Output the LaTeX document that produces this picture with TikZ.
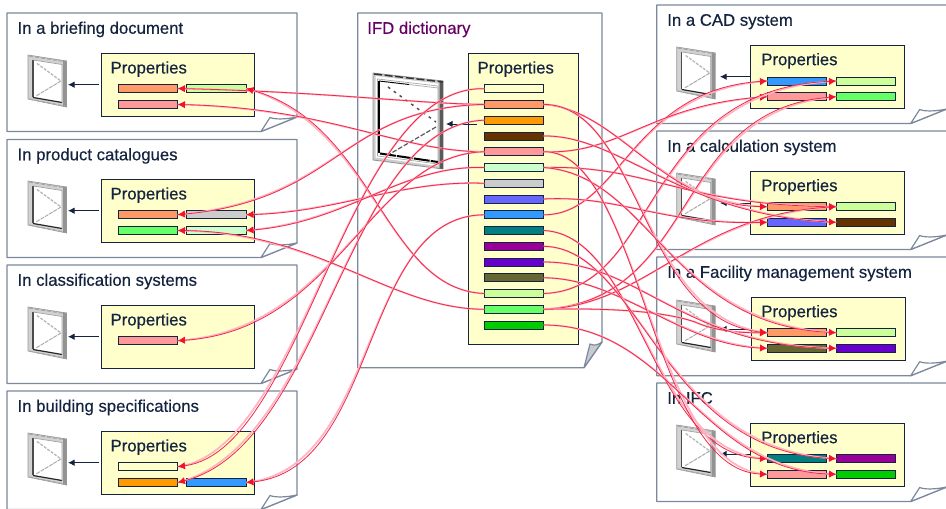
\documentclass[tikz,border=0pt]{standalone}
\usepackage{fontspec}
\setmainfont{Liberation Sans}
\newfontfamily\titlefont[FakeBold=0.35]{Liberation Sans}
\usetikzlibrary{arrows.meta}
\definecolor{navy}{HTML}{14233F}
\definecolor{slate}{HTML}{7C889C}
\definecolor{foldc}{HTML}{C8CCD2}
\definecolor{cream}{HTML}{FFFFCC}
\definecolor{purp}{HTML}{660066}
\definecolor{linkc}{HTML}{F02848}
\definecolor{haloc}{HTML}{FFB4C4}
\definecolor{tipc}{HTML}{F5102F}
\definecolor{cA}{HTML}{FFFFCC}
\definecolor{cB}{HTML}{FF9966}
\definecolor{cC}{HTML}{FF9900}
\definecolor{cD}{HTML}{663300}
\definecolor{cE}{HTML}{FF9999}
\definecolor{cF}{HTML}{CCFFCC}
\definecolor{cG}{HTML}{CCCCCC}
\definecolor{cH}{HTML}{6666FF}
\definecolor{cI}{HTML}{3399FF}
\definecolor{cJ}{HTML}{008080}
\definecolor{cK}{HTML}{990099}
\definecolor{cL}{HTML}{6600CC}
\definecolor{cM}{HTML}{666633}
\definecolor{cN}{HTML}{CCFF99}
\definecolor{cO}{HTML}{66FF66}
\definecolor{cP}{HTML}{00CC00}
\tikzset{
  docpage/.style={draw=slate,line width=1pt,fill=white,line join=round},
  pagefold/.style={draw=slate,line width=.9pt,fill=white,line join=round},
  titletext/.style={anchor=base west,inner sep=0pt,xshift=-.5pt,yshift=.4pt,font=\titlefont\fontsize{12.55pt}{15pt}\selectfont,text=navy},
  propbox/.style={draw=navy,line width=.7pt,fill=cream,inner sep=0pt,outer sep=0pt},
  barbox/.style={draw=navy,line width=.7pt,inner sep=0pt,outer sep=0pt,minimum width=44.5pt,minimum height=6pt},
  winarrow/.style={draw=navy,line width=.7pt,-{Latex[length=5pt,width=5pt]}},
  link/.style={draw=linkc,line width=.6pt,-{Latex[length=5.5pt,width=5.5pt,color=tipc]},
     preaction={draw=haloc,line width=1.3pt,-}},
}
% doc page: name, x, ytop, ybottom, title
\newcommand\docpage[5]{%
  \path[docpage] (#2,#3) -- ++(290,0) -- (#2+290,#4-14.5) -- (#2+254,#4) -- (#2,#4) -- cycle;
  \path[pagefold] (#2+254,#4) -- (#2+263,#4-14) .. controls (#2+268,#4-12) and (#2+278,#4-12) .. (#2+290,#4-14.5) -- cycle;
  \node[titletext] (#1) at (#2+11,#3+21.3) {#5};
}
% property box with heading: name, x0, y0, x1, y1, heading x, baseline
\newcommand\propsbox[7]{%
  \node[propbox,minimum width={(#4-#2)*.75pt},minimum height={(#5-#3)*.75pt}] (#1) at ({(#2+#4)/2},{(#3+#5)/2}) {};
  \node[titletext] (#1h) at (#6,#7) {Properties};
}
% bar: name, left x, top y, colour
\newcommand\pbar[4]{\node[barbox,fill=#4] (#1) at (#2+29.7,#3+4) {};}
% small window icon
\newcommand\winicon[3]{%
  \begin{scope}[shift={(#2,#3)}]
    \node[inner sep=0pt,minimum width=28.5pt,minimum height=39pt] (#1) at (19,26) {};
    \fill[gray!35,draw=gray!80,line width=.5pt] (0,0) -- (38.5,6) -- (38.5,52) -- (0,44) -- cycle;
    \fill[gray!85] (35,5.5) -- (38.5,6) -- (38.5,52) -- (35,51.3) -- cycle;
    \draw[gray!70,line width=1pt,dash pattern=on 3pt off 1.5pt] (1,1) -- (37,6.5);
    \draw[gray!70,line width=.8pt,dash pattern=on 3pt off 1.5pt] (1,44) -- (37,51);
    \fill[white] (5,5) -- (34,9.5) -- (34,47.5) -- (5,42) -- cycle;
    \draw[black!70,line width=.8pt] (5,5) -- (5,42);
    \draw[black!85,line width=.9pt] (5,42.5) -- (34,47.5);
    \draw[gray!75,line width=.5pt] (5,5) -- (34,9.5) -- (34,47.5);
    \draw[gray!55,line width=1pt,dash pattern=on 2.2pt off 1pt] (9,8.5) -- (33,26);
    \draw[gray!70,line width=.7pt,dash pattern=on 3pt off .7pt] (33,26) -- (8,41);
  \end{scope}}
\begin{document}
\begin{tikzpicture}[x=.75pt,y=-.75pt]
\useasboundingbox (0,0) rectangle (946,509);
\fill[white] (0,0) rectangle (946,509);
\clip (0,0) rectangle (946,509);
% ---- pages
\docpage{tA}{7}{13}{131.5}{In a briefing document}
\docpage{tB}{7}{139.5}{257.5}{In product catalogues}
\docpage{tC}{7}{265}{383.5}{In classification systems}
\docpage{tD}{7}{391}{509.5}{In building specifications}
\docpage{tE}{656.7}{5}{123.5}{In a CAD system}
\docpage{tF}{656.7}{131}{249.5}{In a calculation system}
\docpage{tG}{656.7}{257}{375.7}{In a Facility management system}
\docpage{tH}{656.7}{383}{501.5}{In IFC}
% dictionary page
\path[docpage] (357.7,13) -- (602,13) -- (602,342) -- (584,367.7) -- (357.7,367.7) -- cycle;
\path[pagefold,fill=foldc] (584,367.7) -- (590,344) .. controls (594,346) and (598,345) .. (602,342) -- cycle;
\node[titletext,text=purp] (tI) at (367.7,34.3) {IFD dictionary};
% ---- property boxes
\propsbox{pA}{101}{53}{254}{116}{111}{74}
\propsbox{pB}{101}{179}{254}{242}{111}{200}
\propsbox{pC}{101}{305}{254}{368}{111}{326}
\propsbox{pD}{101}{431.7}{254}{494}{111}{452}
\propsbox{pE}{750.7}{45.7}{904.3}{108}{761.7}{65.7}
\propsbox{pF}{750.7}{171.7}{904.3}{234.3}{761.7}{191.7}
\propsbox{pG}{751.5}{297.3}{905.5}{360}{761.7}{317.7}
\propsbox{pH}{750.7}{423.3}{904.3}{486}{761.7}{443.7}
\propsbox{pI}{468.3}{53}{578.7}{344.5}{478}{74}
% ---- dictionary bars
\pbar{bA}{484.3}{84.7}{cA}
\pbar{bB}{484.3}{100.4}{cB}
\pbar{bC}{484.3}{116.2}{cC}
\pbar{bD}{484.3}{132}{cD}
\pbar{bE}{484.3}{147.7}{cE}
\pbar{bF}{484.3}{163.5}{cF}
\pbar{bG}{484.3}{179.3}{cG}
\pbar{bH}{484.3}{195}{cH}
\pbar{bI}{484.3}{210.8}{cI}
\pbar{bJ}{484.3}{226.5}{cJ}
\pbar{bK}{484.3}{242.3}{cK}
\pbar{bL}{484.3}{258}{cL}
\pbar{bM}{484.3}{273.8}{cM}
\pbar{bN}{484.3}{289.5}{cN}
\pbar{bO}{484.3}{305.3}{cO}
\pbar{bP}{484.3}{321}{cP}
% ---- panel bars, left
\pbar{aA}{118.3}{84.5}{cB}\pbar{aB}{186.8}{84.5}{cN}\pbar{aC}{118.3}{100.5}{cE}
\pbar{dA}{118.3}{210.7}{cB}\pbar{dB}{186.8}{210.7}{cG}\pbar{dC}{118.3}{226.5}{cO}\pbar{dD}{186.8}{226.5}{cF}
\pbar{eA}{118.3}{336.7}{cE}
\pbar{fA}{118.3}{462.7}{cA}\pbar{fB}{118.3}{478.5}{cC}\pbar{fC}{186.8}{478.5}{cI}
% ---- panel bars, right
\pbar{gA}{767.3}{77}{cI}\pbar{gB}{836.3}{77}{cN}\pbar{gC}{767.3}{92.7}{cE}\pbar{gD}{836.3}{92.7}{cO}
\pbar{hA}{767.3}{202.7}{cB}\pbar{hB}{836.3}{202.7}{cN}\pbar{hC}{767.3}{218.3}{cH}\pbar{hD}{836.3}{218.3}{cD}
\pbar{iA}{767.3}{328.7}{cB}\pbar{iB}{836.3}{328.7}{cN}\pbar{iC}{767.3}{344.3}{cM}\pbar{iD}{836.3}{344.3}{cL}
\pbar{jA}{767.3}{454.7}{cJ}\pbar{jB}{836.3}{454.7}{cK}\pbar{jC}{767.3}{470.3}{cE}\pbar{jD}{836.3}{470.3}{cP}
% ---- window icons
\winicon{wA}{28}{55}
\winicon{wB}{28}{181}
\winicon{wC}{28}{307}
\winicon{wD}{28}{433}
\winicon{wE}{676.7}{47}
\winicon{wF}{676.7}{173}
\winicon{wG}{676.7}{300}
\winicon{wH}{676.7}{425}
% big window
\begin{scope}[shift={(373,73)}]
  \node[inner sep=0pt,minimum width=52.5pt,minimum height=72pt] (wI) at (35,48) {};
  \fill[gray!40,draw=gray!85,line width=.6pt] (0,0) -- (70,8) -- (70,96) -- (0,87) -- cycle;
  \fill[black!65] (66.5,7.6) -- (70,8) -- (70,96) -- (66.5,95.5) -- cycle;
  \fill[white] (2.5,3) -- (65,10.5) -- (65,93) -- (2.5,84.5) -- cycle;
  \draw[gray!70,line width=.5pt] (4.5,6) -- (65,13) -- (65,91) -- (4.5,83) -- cycle;
  \fill[white] (6,8) -- (65,15) -- (65,89) -- (6,80) -- cycle;
  \draw[black,line width=1pt] (6,8) -- (6,80);
  \draw[black,line width=.7pt] (6,8) -- (36,11.5);
  \draw[gray!70,line width=.5pt] (36,11.5) -- (65,15) -- (65,89);
  \draw[black,line width=1.5pt,dash pattern=on 12pt off .8pt] (7,80.5) -- (65,89);
  \draw[black!70,line width=1.1pt,dash pattern=on 2pt off 3.4pt] (15,14) -- (63,49);
  \draw[black!65,line width=.9pt,dash pattern=on 3.5pt off 1.4pt] (63,54) -- (15,82);
  \draw[black!80,line width=1.1pt,dash pattern=on 6pt off 2pt] (1,1) -- (70,9);
\end{scope}
% ---- arrows from property boxes to windows
\coordinate (aw1) at (68,84.7);\coordinate (aw2) at (68,210.7);\coordinate (aw3) at (68,336.7);\coordinate (aw4) at (68,462.7);
\coordinate (aw5) at (720,76.7);\coordinate (aw6) at (720,203);\coordinate (aw7) at (720,329);\coordinate (aw8) at (720,454);\coordinate (aw9) at (446,124);
\draw[winarrow] (pA.west |- aw1) ++(-2,0) -- (aw1);
\draw[winarrow] (pB.west |- aw2) ++(-2,0) -- (aw2);
\draw[winarrow] (pC.west |- aw3) ++(-2,0) -- (aw3);
\draw[winarrow] (pD.west |- aw4) ++(-2,0) -- (aw4);
\draw[winarrow] (pE.west |- aw5) -- (aw5);
\draw[winarrow] (pF.west |- aw6) -- (aw6);
\draw[winarrow] (pG.west |- aw7) -- (aw7);
\draw[winarrow] (pH.west |- aw8) -- (aw8);
\draw[winarrow] (pI.west |- aw9) ++(9,0) -- (aw9);
% ---- connectors to the left
\draw[link] (bB.west) .. controls (420,104) and (330,92) .. (aA.east);
\draw[link] (bN.west) .. controls (385,290) and (375,125) .. (aB.east);
\draw[link] (bE.west) .. controls (400,152) and (330,108) .. (aC.east);
\draw[link] (bB.west) .. controls (340,108) and (340,200) .. (dA.east);
\draw[link] (bG.west) .. controls (400,180) and (340,212) .. (dB.east);
\draw[link] (bO.west) .. controls (390,309) and (320,232) .. (dC.east);
\draw[link] (bF.west) .. controls (400,165) and (350,222) .. (dD.east);
\draw[link] (bE.west) .. controls (370,155) and (340,330) .. (eA.east);
\draw[link] (bA.west) .. controls (345,85) and (305,450) .. (fA.east);
\draw[link] (bC.west) .. controls (345,125) and (325,445) .. (fB.east);
\draw[link] (bI.west) .. controls (360,215) and (380,470) .. (fC.east);
% ---- connectors to the right
\draw[link] (bI.east) .. controls (620,215) and (630,90) .. (gA.west);
\draw[link] (bE.east) .. controls (620,155) and (650,105) .. (gC.west);
\draw[link] (bN.east) .. controls (660,290) and (640,90) .. (gB.west);
\draw[link] (bO.east) .. controls (700,300) and (670,110) .. (gD.west);
\draw[link] (bB.east) .. controls (620,110) and (660,205) .. (hA.west);
\draw[link] (bF.east) .. controls (650,165) and (680,205) .. (hB.west);
\draw[link] (bO.east) .. controls (650,305) and (690,215) .. (hB.west);
\draw[link] (bH.east) .. controls (620,195) and (660,225) .. (hC.west);
\draw[link] (bD.east) .. controls (620,135) and (680,215) .. (hD.west);
\draw[link] (bB.east) .. controls (640,105) and (640,320) .. (iA.west);
\draw[link] (bO.east) .. controls (600,308) and (660,310) .. (695,322) .. controls (715,331) and (740,333) .. (iA.west);
\draw[link] (bF.east) .. controls (650,175) and (670,325) .. (iB.west);
\draw[link] (bM.east) .. controls (620,278) and (680,345) .. (iC.west);
\draw[link] (bL.east) .. controls (640,262) and (680,345) .. (iD.west);
\draw[link] (bJ.east) .. controls (640,235) and (650,455) .. (jA.west);
\draw[link] (bK.east) .. controls (640,248) and (660,450) .. (jB.west);
\draw[link] (bE.east) .. controls (640,150) and (650,470) .. (jC.west);
\draw[link] (bP.east) .. controls (670,325) and (700,470) .. (jD.west);
\end{tikzpicture}
\end{document}
